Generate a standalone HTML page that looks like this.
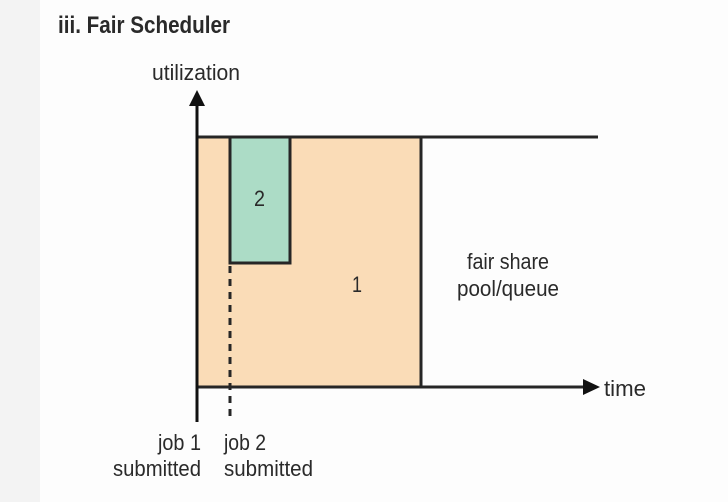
<!DOCTYPE html>
<html><head><meta charset="utf-8"><style>
html,body{margin:0;padding:0;background:#fdfdfd;}
svg{display:block}
text{font-family:"Liberation Sans Narrow","Liberation Sans",sans-serif;fill:#2a2a2a;}
</style></head><body>
<svg width="728" height="502" viewBox="0 0 728 502" xmlns="http://www.w3.org/2000/svg">
<rect x="0" y="0" width="728" height="502" fill="#fdfdfd"/>
<rect x="0" y="0" width="40" height="502" fill="#f3f3f3"/>
<text x="58" y="33" font-size="24" font-weight="bold" textLength="172" lengthAdjust="spacingAndGlyphs">iii. Fair Scheduler</text>
<text x="152" y="80" font-size="22" textLength="88" lengthAdjust="spacingAndGlyphs">utilization</text>
<rect x="197" y="137" width="224" height="250" fill="#fadcb7"/>
<rect x="230" y="137" width="60" height="126" fill="#acdcc6" stroke="#262626" stroke-width="3"/>
<line x1="421" y1="137" x2="421" y2="387" stroke="#262626" stroke-width="3"/>
<line x1="197" y1="137" x2="598" y2="137" stroke="#262626" stroke-width="3"/>
<line x1="197" y1="387" x2="585" y2="387" stroke="#262626" stroke-width="3"/>
<polygon points="583,379 600,387 583,395" fill="#111"/>
<line x1="197" y1="104" x2="197" y2="422" stroke="#111" stroke-width="3"/>
<polygon points="189,106 197,90 205,106" fill="#111"/>
<line x1="230" y1="266" x2="230" y2="422" stroke="#262626" stroke-width="3" stroke-dasharray="7,6"/>
<text x="254" y="206" font-size="22" textLength="11" lengthAdjust="spacingAndGlyphs">2</text>
<text x="352" y="292" font-size="22" textLength="10" lengthAdjust="spacingAndGlyphs">1</text>
<text x="467" y="269" font-size="22" textLength="82" lengthAdjust="spacingAndGlyphs">fair share</text>
<text x="457" y="296" font-size="22" textLength="102" lengthAdjust="spacingAndGlyphs">pool/queue</text>
<text x="604" y="396" font-size="22" textLength="42" lengthAdjust="spacingAndGlyphs">time</text>
<text x="158" y="450" font-size="22" textLength="43" lengthAdjust="spacingAndGlyphs">job 1</text>
<text x="113" y="476" font-size="22" textLength="88" lengthAdjust="spacingAndGlyphs">submitted</text>
<text x="224" y="450" font-size="22" textLength="42" lengthAdjust="spacingAndGlyphs">job 2</text>
<text x="224" y="476" font-size="22" textLength="89" lengthAdjust="spacingAndGlyphs">submitted</text>
</svg>
</body></html>
